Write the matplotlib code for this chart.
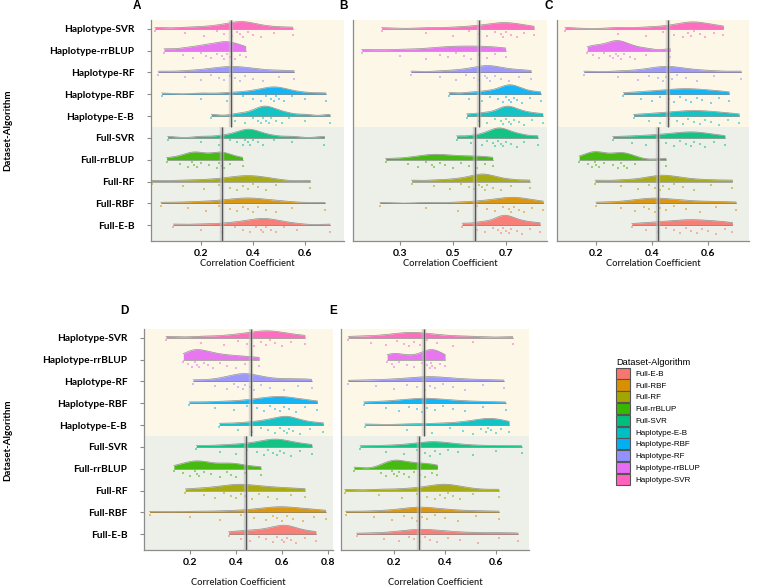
import matplotlib
matplotlib.use("Agg")
import matplotlib.pyplot as plt
import numpy as np
from matplotlib.patches import Patch

# 组别（自下而上），与图例顺序一致
groups = ["Full-E-B", "Full-RBF", "Full-RF", "Full-rrBLUP", "Full-SVR",
          "Haplotype-E-B", "Haplotype-RBF", "Haplotype-RF", "Haplotype-rrBLUP", "Haplotype-SVR"]
colors = ["#F8766D", "#D89000", "#A3A500", "#39B600", "#00BF7D",
          "#00BFC4", "#00B0F6", "#9590FF", "#E76BF3", "#FF62BC"]

# 每个面板每组的相关系数
panel_a = [
    [0.094, 0.20, 0.28, 0.33, 0.36, 0.39, 0.41, 0.43, 0.44, 0.45, 0.47, 0.49, 0.52, 0.57, 0.696],
    [0.046, 0.15, 0.22, 0.27, 0.31, 0.34, 0.36, 0.38, 0.40, 0.42, 0.45, 0.49, 0.55, 0.677],
    [0.01, 0.13, 0.21, 0.27, 0.31, 0.34, 0.36, 0.38, 0.40, 0.42, 0.45, 0.49, 0.62],
    [0.068, 0.12, 0.15, 0.165, 0.175, 0.185, 0.20, 0.23, 0.26, 0.27, 0.28, 0.29, 0.31, 0.36],
    [0.072, 0.20, 0.27, 0.31, 0.34, 0.36, 0.37, 0.38, 0.39, 0.40, 0.42, 0.44, 0.48, 0.55, 0.675],
    [0.24, 0.33, 0.37, 0.40, 0.42, 0.43, 0.44, 0.45, 0.46, 0.47, 0.49, 0.51, 0.54, 0.60, 0.696],
    [0.049, 0.20, 0.30, 0.36, 0.40, 0.43, 0.45, 0.47, 0.48, 0.49, 0.50, 0.52, 0.55, 0.60, 0.68],
    [0.036, 0.14, 0.20, 0.24, 0.27, 0.29, 0.31, 0.33, 0.35, 0.37, 0.40, 0.44, 0.50, 0.558],
    [0.058, 0.13, 0.17, 0.20, 0.22, 0.24, 0.26, 0.28, 0.29, 0.30, 0.31, 0.33, 0.35, 0.372],
    [0.023, 0.14, 0.21, 0.26, 0.29, 0.32, 0.34, 0.35, 0.36, 0.38, 0.40, 0.43, 0.48, 0.553],
]
panel_b = [
    [0.535, 0.59, 0.62, 0.65, 0.67, 0.68, 0.69, 0.70, 0.71, 0.72, 0.74, 0.76, 0.79, 0.829],
    [0.225, 0.40, 0.52, 0.59, 0.63, 0.66, 0.69, 0.71, 0.72, 0.73, 0.75, 0.77, 0.80, 0.841],
    [0.344, 0.43, 0.49, 0.53, 0.56, 0.58, 0.60, 0.61, 0.62, 0.63, 0.65, 0.68, 0.72, 0.79],
    [0.246, 0.33, 0.37, 0.40, 0.42, 0.43, 0.45, 0.47, 0.50, 0.53, 0.56, 0.59, 0.62, 0.65],
    [0.514, 0.57, 0.61, 0.63, 0.65, 0.66, 0.67, 0.68, 0.69, 0.70, 0.72, 0.74, 0.77, 0.82],
    [0.552, 0.60, 0.63, 0.66, 0.68, 0.69, 0.70, 0.71, 0.72, 0.73, 0.75, 0.77, 0.80, 0.839],
    [0.485, 0.56, 0.61, 0.64, 0.67, 0.69, 0.70, 0.71, 0.72, 0.73, 0.74, 0.76, 0.79, 0.831],
    [0.342, 0.45, 0.51, 0.55, 0.58, 0.60, 0.62, 0.63, 0.64, 0.66, 0.68, 0.71, 0.75, 0.795],
    [0.156, 0.30, 0.40, 0.45, 0.48, 0.51, 0.54, 0.57, 0.60, 0.63, 0.66, 0.699],
    [0.231, 0.40, 0.50, 0.56, 0.60, 0.63, 0.66, 0.68, 0.69, 0.70, 0.72, 0.74, 0.77, 0.806],
]
panel_c = [
    [0.328, 0.38, 0.42, 0.45, 0.48, 0.50, 0.52, 0.54, 0.56, 0.58, 0.60, 0.63, 0.66, 0.687],
    [0.20, 0.29, 0.34, 0.37, 0.39, 0.41, 0.43, 0.45, 0.48, 0.52, 0.57, 0.63, 0.70],
    [0.197, 0.29, 0.35, 0.39, 0.41, 0.43, 0.44, 0.46, 0.48, 0.51, 0.55, 0.61, 0.687],
    [0.14, 0.17, 0.185, 0.195, 0.20, 0.21, 0.23, 0.26, 0.28, 0.29, 0.30, 0.31, 0.34, 0.45],
    [0.26, 0.33, 0.38, 0.42, 0.45, 0.48, 0.50, 0.52, 0.54, 0.55, 0.57, 0.59, 0.62, 0.66],
    [0.334, 0.39, 0.43, 0.46, 0.49, 0.51, 0.53, 0.55, 0.57, 0.59, 0.61, 0.64, 0.67, 0.711],
    [0.298, 0.36, 0.40, 0.43, 0.46, 0.48, 0.50, 0.52, 0.54, 0.56, 0.58, 0.61, 0.64, 0.675],
    [0.157, 0.28, 0.35, 0.39, 0.42, 0.44, 0.45, 0.47, 0.49, 0.52, 0.56, 0.62, 0.718],
    [0.169, 0.19, 0.21, 0.23, 0.25, 0.26, 0.27, 0.28, 0.29, 0.30, 0.32, 0.34, 0.38, 0.465],
    [0.09, 0.28, 0.38, 0.44, 0.48, 0.51, 0.53, 0.54, 0.55, 0.57, 0.59, 0.62, 0.655],
]
panel_d = [
    [0.368, 0.42, 0.46, 0.50, 0.53, 0.56, 0.58, 0.60, 0.61, 0.62, 0.64, 0.66, 0.70, 0.748],
    [0.024, 0.20, 0.33, 0.42, 0.48, 0.53, 0.56, 0.58, 0.60, 0.62, 0.65, 0.69, 0.74, 0.79],
    [0.18, 0.26, 0.31, 0.35, 0.38, 0.40, 0.42, 0.44, 0.47, 0.50, 0.54, 0.58, 0.64, 0.70],
    [0.13, 0.17, 0.20, 0.22, 0.23, 0.24, 0.26, 0.29, 0.33, 0.36, 0.38, 0.40, 0.44, 0.508],
    [0.228, 0.33, 0.40, 0.45, 0.49, 0.52, 0.54, 0.56, 0.58, 0.59, 0.61, 0.64, 0.68, 0.73],
    [0.328, 0.41, 0.47, 0.51, 0.54, 0.57, 0.59, 0.61, 0.62, 0.63, 0.65, 0.68, 0.72, 0.78],
    [0.197, 0.31, 0.39, 0.45, 0.49, 0.52, 0.55, 0.57, 0.59, 0.61, 0.63, 0.66, 0.70, 0.754],
    [0.214, 0.31, 0.36, 0.39, 0.41, 0.43, 0.44, 0.46, 0.48, 0.51, 0.55, 0.61, 0.67, 0.729],
    [0.171, 0.19, 0.21, 0.22, 0.23, 0.24, 0.26, 0.28, 0.30, 0.33, 0.36, 0.40, 0.44, 0.501],
    [0.096, 0.25, 0.35, 0.41, 0.45, 0.48, 0.51, 0.53, 0.55, 0.57, 0.60, 0.64, 0.70],
]
panel_e = [
    [0.053, 0.16, 0.22, 0.26, 0.28, 0.30, 0.32, 0.34, 0.37, 0.41, 0.46, 0.53, 0.61, 0.686],
    [0.01, 0.12, 0.19, 0.24, 0.27, 0.29, 0.31, 0.33, 0.36, 0.40, 0.45, 0.52, 0.611],
    [0.007, 0.14, 0.23, 0.29, 0.33, 0.36, 0.38, 0.40, 0.41, 0.43, 0.46, 0.51, 0.611],
    [0.043, 0.15, 0.17, 0.19, 0.20, 0.21, 0.22, 0.24, 0.26, 0.28, 0.30, 0.32, 0.35, 0.37],
    [0.067, 0.17, 0.24, 0.29, 0.32, 0.34, 0.36, 0.38, 0.41, 0.45, 0.51, 0.60, 0.70],
    [0.086, 0.25, 0.35, 0.42, 0.47, 0.51, 0.54, 0.56, 0.57, 0.58, 0.60, 0.62, 0.651],
    [0.081, 0.17, 0.22, 0.26, 0.29, 0.31, 0.33, 0.36, 0.39, 0.43, 0.48, 0.55, 0.637],
    [0.021, 0.13, 0.20, 0.25, 0.29, 0.32, 0.34, 0.36, 0.39, 0.43, 0.48, 0.55, 0.63],
    [0.173, 0.19, 0.20, 0.22, 0.25, 0.28, 0.31, 0.33, 0.34, 0.345, 0.35, 0.36, 0.38, 0.40],
    [0.021, 0.11, 0.17, 0.21, 0.24, 0.26, 0.28, 0.30, 0.33, 0.37, 0.43, 0.51, 0.665],
]

# 各面板 Haplotype / Full 平均线位置
hap_means = [0.316, 0.598, 0.457, 0.465, 0.318]
full_means = [0.281, 0.583, 0.422, 0.443, 0.298]

panel_letters = ["A", "B", "C", "D", "E"]
xlims = [(0.008, 0.75), (0.123, 0.855), (0.061, 0.746), (0.0, 0.822), (-0.008, 0.729)]
xticks = [[0.2, 0.4, 0.6], [0.3, 0.5, 0.7], [0.2, 0.4, 0.6], [0.2, 0.4, 0.6, 0.8], [0.2, 0.4, 0.6]]
xlabel_pads = [0.5, 0.5, 0.5, 7.5, 7.5]

W, H = 760, 587
HAP_BG = "#FCF7E6"
FULL_BG = "#EDF0E8"
YLIM = (0.28, 10.4)


def px_box(left, right, top, bottom):
    return [left / W, 1 - bottom / H, (right - left) / W, (bottom - top) / H]


def kde(vals, grid):
    vals = np.asarray(vals)
    sd = vals.std(ddof=1)
    iqr = np.subtract(*np.percentile(vals, [75, 25]))
    bw = 0.8 * 0.9 * min(sd, iqr / 1.34) * len(vals) ** -0.2
    z = (grid[:, None] - vals[None, :]) / bw
    return np.exp(-0.5 * z ** 2).sum(axis=1) / (len(vals) * bw * np.sqrt(2 * np.pi))


def draw_panel(ax, data, hap_mean, full_mean, xlim, ticks, show_y, lpad):
    ax.set_xlim(xlim)
    ax.set_ylim(YLIM)
    ax.axhspan(5.5, YLIM[1], color=HAP_BG, lw=0, zorder=0)
    ax.axhspan(YLIM[0], 5.5, color=FULL_BG, lw=0, zorder=0)

    grids, dens = [], []
    for vals in data:
        g = np.linspace(min(vals), max(vals), 300)
        grids.append(g)
        dens.append(kde(vals, g))
    scale = 0.46 / max(d.max() for d in dens)

    for i, vals in enumerate(data):
        y0 = i + 1
        c = colors[i]
        top = y0 + dens[i] * scale
        ax.fill_between(grids[i], y0, top, color=c, alpha=0.92, lw=0, zorder=2)
        ax.plot(grids[i], top, color="#777777", lw=0.5, alpha=0.8, zorder=3)
        ax.plot(grids[i][[0, -1]], [y0, y0], color="#777777", lw=0.4, zorder=3)
        # 抖动点（固定偏移）
        n = len(vals)
        offs = 0.1 + 0.32 * ((np.arange(n) * 5) % n) / n
        ax.scatter(vals, y0 - offs, s=0.7, marker="s", color=c, alpha=0.5, lw=0, zorder=2)

    # 平均线（带浅色光晕）
    for xm, (y1, y2) in [(hap_mean, (5.5, YLIM[1])), (full_mean, (YLIM[0], 5.5))]:
        ax.plot([xm, xm], [y1, y2], color="#bbbbbb", lw=3.2, alpha=0.55, zorder=4,
                solid_capstyle="butt")
        ax.plot([xm, xm], [y1, y2], color="#555555", lw=0.9, zorder=5, solid_capstyle="butt")

    for s in ["top", "right"]:
        ax.spines[s].set_visible(False)
    for s in ["left", "bottom"]:
        ax.spines[s].set_color("#8c8c8c")
        ax.spines[s].set_linewidth(0.9)

    ax.set_xticks(ticks)
    ax.set_xticklabels([f"{t:.1f}" for t in ticks], fontsize=7.5, fontweight="bold",
                       family="Lato")
    ax.tick_params(axis="x", length=3, width=0.8, color="#8c8c8c", pad=3)
    ax.set_xlabel("Correlation Coefficient", fontsize=6.7, fontweight="semibold",
                  family="Lato", color="#222222", labelpad=lpad)
    if show_y:
        ax.set_yticks(np.arange(1, 11))
        ax.set_yticklabels(groups, fontsize=7.3, fontweight="bold", family="Lato")
        ax.tick_params(axis="y", length=3, width=0.8, color="#8c8c8c", pad=9)
    else:
        ax.set_yticks([])


fig = plt.figure(figsize=(W / 100, H / 100), dpi=100)

boxes = [
    px_box(151, 344, 20, 241),
    px_box(353, 547, 20, 241),
    px_box(557, 749, 20, 241),
    px_box(144, 333, 329, 550),
    px_box(341, 529, 329, 550),
]
all_data = [panel_a, panel_b, panel_c, panel_d, panel_e]
for k in range(5):
    ax = fig.add_axes(boxes[k])
    draw_panel(ax, all_data[k], hap_means[k], full_means[k], xlims[k], xticks[k],
               show_y=k in (0, 3), lpad=xlabel_pads[k])

# 面板字母
letter_pos = [(137, 6), (343, 6), (549, 6), (124, 311), (333, 311)]
for letter, (x, y) in zip(panel_letters, letter_pos):
    fig.text(x / W, 1 - y / H, letter, fontsize=8.5, fontweight="bold",
             family="Liberation Sans", ha="center", va="center")

for yc in (130, 440):
    fig.text(8 / W, 1 - yc / H, "Dataset-Algorithm", rotation=90, fontsize=7,
             fontweight="bold", family="Lato", ha="center", va="center")

# 图例
handles = [Patch(facecolor=c, edgecolor="#555555", lw=0.8) for c in colors]
leg = fig.legend(handles, groups, loc="upper left",
                 bbox_to_anchor=(616 / W, 1 - 358 / H), frameon=False,
                 prop={"family": "Liberation Sans", "size": 5.8},
                 title="Dataset-Algorithm",
                 title_fontproperties={"family": "Liberation Sans", "size": 6.7},
                 handlelength=1.73, handleheight=1.73, labelspacing=0.09,
                 handletextpad=0.65, borderpad=0, borderaxespad=0, alignment="left")

fig.savefig("out.png", dpi=100)
